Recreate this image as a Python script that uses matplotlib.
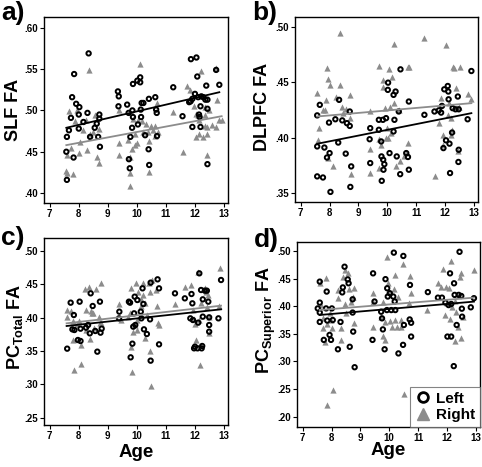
import numpy as np
import matplotlib
matplotlib.use("Agg")
import matplotlib.pyplot as plt
from matplotlib.ticker import FuncFormatter
from matplotlib.lines import Line2D

plt.rcParams['font.family'] = ['Liberation Sans', 'DejaVu Sans']
plt.rcParams['mathtext.fontset'] = 'custom'
plt.rcParams['mathtext.rm'] = 'Liberation Sans'
plt.rcParams['mathtext.bf'] = 'Liberation Sans:bold'

# ---------------- Panel a: SLF FA ----------------
a_left_age = [8.34, 7.84, 7.77, 7.91, 8.02, 8.00, 8.30, 7.73, 8.16, 8.00, 7.66, 7.59, 7.57, 7.82, 7.59,
              8.39, 8.55, 8.62, 8.71, 8.71, 8.67, 8.73, 9.35, 9.38, 9.37, 9.67, 9.72, 9.85, 9.87, 9.84,
              9.78, 9.73, 9.76, 9.87, 10.02, 10.12, 10.12, 10.14, 10.17, 10.23, 10.15, 10.04, 10.29,
              10.41, 10.42, 10.43, 10.64, 10.67, 10.69, 10.70, 11.26, 11.58, 11.87, 12.06, 11.92, 12.01,
              11.81, 12.09, 11.92, 11.86, 12.12, 12.20, 12.23, 12.30, 12.37, 12.44, 12.17, 12.20, 12.40,
              12.44, 12.44, 12.74, 12.85, 12.15]
a_left_fa = [.569, .544, .516, .508, .504, .495, .497, .491, .486, .478, .476, .468, .450, .443, .416,
             .468, .479, .484, .495, .490, .468, .456, .523, .517, .505, .507, .497, .500, .492, .479,
             .468, .441, .430, .532, .536, .540, .534, .501, .509, .509, .492, .483, .470,
             .453, .514, .434, .516, .501, .497, .469, .528, .493, .562, .564, .514, .520,
             .510, .541, .480, .511, .516, .505, .517, .516, .513, .502, .492, .480, .530,
             .513, .435, .549, .531, .495]
a_right_age = [8.34, 7.57, 7.59, 7.80, 8.05, 8.00, 8.30, 8.39, 8.48, 8.62, 8.71, 8.55, 8.69, 7.93, 8.25,
               8.16, 7.88, 7.59, 7.73, 7.65, 9.39, 9.38, 9.39, 9.70, 9.76, 9.76, 9.76, 9.85, 9.93, 9.95,
               10.01, 10.10, 10.05, 10.17, 10.21, 10.33, 10.38, 10.42, 10.50, 10.55, 10.41, 10.64, 10.69,
               10.72, 10.64, 9.87, 11.26, 11.58, 11.75, 11.85, 11.97, 12.03, 12.15, 12.21, 12.12, 12.28,
               12.35, 12.35, 12.43, 12.43, 12.35, 12.51, 12.60, 12.72, 12.77, 12.83, 12.44, 12.72, 12.06,
               12.15, 12.93]
a_right_fa = [.549, .427, .424, .423, .462, .449, .452, .472, .474, .444, .436, .495, .478, .501, .489,
              .476, .487, .446, .454, .499, .501, .446, .461, .464, .444, .424, .409, .453, .472, .458,
              .460, .556, .489, .487, .474, .483, .474, .463, .481, .476, .426, .481, .509,
              .474, .469, .490, .498, .450, .530, .525, .505, .496, .472, .548, .495, .468,
              .481, .495, .472, .480, .504, .501, .482, .551, .512, .489, .446, .480, .468,
              .489, .489]
a_fit_left = [7.57, 12.85, .479, .522]     # age0, age1, fa0, fa1
a_fit_right = [7.57, 12.93, .458, .493]

# ---------------- Panel b: DLPFC FA ----------------
b_left_age = [7.57, 7.66, 7.57, 7.82, 7.57, 7.77, 7.98, 8.00, 7.91, 8.03, 8.33, 8.30, 8.20, 8.44, 8.56,
              8.60, 8.70, 8.70, 8.75, 8.72, 9.41, 9.39, 9.41, 9.71, 9.71, 9.79, 9.80, 9.81, 9.86, 9.90,
              9.87, 9.85, 9.96, 10.02, 10.03, 10.08, 10.22, 10.29, 10.22, 10.25, 10.33, 10.45, 10.46,
              10.40, 10.66, 10.72, 10.75, 10.75, 11.29, 11.64, 11.79, 11.87, 11.90, 11.95, 11.98, 12.04,
              12.10, 12.12, 12.13, 12.16, 12.18, 12.25, 12.27, 12.37, 12.45, 12.48, 12.48, 12.47, 12.79,
              12.92]
b_left_fa = [.420, .4295, .392, .391, .365, .364, .4135, .386, .382, .351, .434, .3955, .4165, .4155, .3855,
             .413, .4105, .4235, .374, .3555, .4085, .3985, .377, .416, .407, .3965, .383, .361, .380, .376,
             .371, .416, .4175, .443, .4495, .386, .4385, .4415, .4055, .416, .383, .367, .4615,
             .4235, .386, .3825, .371, .4325, .4205, .4235, .4245, .4225, .4285, .3905, .4435, .3975,
             .4465, .4415, .4345, .3945, .368, .4045, .4265, .4255, .437, .4255, .389, .378, .4165,
             .460]
b_right_age = [7.57, 7.60, 7.64, 7.91, 7.96, 8.03, 7.89, 7.84, 7.93, 8.12, 8.35, 8.35, 8.21, 8.42, 8.58,
               8.72, 8.74, 8.72, 8.47, 7.77, 9.39, 9.41, 9.41, 9.70, 9.73, 9.78, 9.85, 9.87, 9.94, 9.99,
               10.06, 10.11, 10.18, 10.22, 10.25, 10.31, 10.40, 10.43, 10.57, 10.72, 10.77, 10.72, 10.66,
               9.96, 10.14, 9.71, 10.02, 11.29, 11.65, 11.81, 11.87, 11.95, 11.95, 12.04, 12.10, 12.13,
               12.22, 12.25, 12.28, 12.33, 12.40, 12.49, 12.54, 12.46, 12.79, 12.91, 12.23]
b_right_fa = [.440, .398, .409, .4625, .453, .4475, .434, .425, .3815, .374, .494, .4475, .437, .4275, .4255,
              .4385, .367, .418, .422, .425, .4235, .3895, .368, .4645, .3985, .3935, .446, .452, .4265, .4085,
              .4615, .428, .4545, .431, .4845, .3745, .425, .3785, .383, .464, .464, .395, .3865,
              .3995, .404, .3725, .3995, .4895, .3655, .413, .4355, .4025, .3935, .4835, .4205, .431,
              .4175, .407, .464, .4625, .4445, .4275, .464, .3875, .4395, .4345, .4025]
b_fit_left = [7.57, 12.92, .3944, .422]
b_fit_right = [7.57, 12.92, .419, .431]

# ---------------- Panel c: PC Total FA ----------------
c_left_age = [7.60, 7.72, 7.83, 7.78, 7.85, 7.97, 8.03, 8.06, 8.06, 8.25, 8.32, 8.38, 8.41, 8.48, 8.57,
              8.64, 8.73, 8.75, 8.79, 9.40, 9.39, 9.73, 9.77, 9.79, 9.85, 9.88, 9.91, 9.95, 9.93, 10.02,
              10.14, 10.16, 10.20, 10.23, 10.25, 10.35, 10.46, 10.48, 10.48, 10.72, 10.77, 10.77, 11.32,
              11.66, 11.85, 11.89, 11.94, 11.92, 11.98, 12.01, 12.10, 12.12, 12.16, 12.22, 12.24, 12.26,
              12.28, 12.28, 12.35, 12.42, 12.47, 12.50, 12.50, 12.50, 12.82, 12.91]
c_left_fa = [.3535, .4225, .404, .3825, .3815, .3665, .424, .365, .3835, .385, .389, .3765, .4365, .4175, .380,
             .349, .424, .3775, .3835, .409, .399, .424, .4225, .3405, .361, .3865, .4065, .389, .4315, .4265,
             .409, .399, .444, .4205, .3825, .3755, .3975, .3355, .4525, .4575, .444, .360, .4365,
             .429, .399, .4355, .3965, .4215, .354, .3565, .354, .3925, .4665, .4415, .354, .3575,
             .4015, .4275, .4405, .4405, .424, .4005, .389, .379, .399, .4565]
c_right_age = [7.58, 7.60, 7.72, 7.81, 7.81, 7.85, 8.00, 8.06, 8.06, 8.24, 8.21, 8.41, 8.44, 8.35, 8.49,
               8.54, 8.59, 8.71, 8.75, 8.77, 8.73, 8.24, 8.38, 7.95, 9.40, 9.45, 9.70, 9.77, 9.79, 9.81,
               9.85, 9.88, 9.93, 9.96, 10.02, 10.05, 10.14, 10.16, 10.20, 10.23, 10.28, 10.28, 10.37, 10.43,
               10.46, 10.46, 10.48, 10.54, 10.66, 10.72, 10.77, 10.69, 10.02, 11.32, 11.66, 11.87, 11.93,
               11.96, 12.01, 12.04, 12.10, 12.16, 12.19, 12.21, 12.35, 12.39, 12.42, 12.50, 12.50,
               12.88, 12.85, 12.45]
c_right_fa = [.4115, .4005, .4095, .3955, .3665, .3215, .3955, .359, .3305, .4115, .4425, .4095, .4075, .4465, .4065,
              .384, .4425, .4005, .4525, .3915, .3915, .3815, .3675, .3905, .4205, .3965, .4015, .4065, .444, .3555,
              .319, .379, .389, .4515, .3815, .439, .4275, .4175, .4515, .434, .4215, .369, .404, .4515,
              .439, .3505, .2975, .4565, .4415, .3915, .389, .4175, .3965, .4205, .4465, .449, .4115,
              .3975, .3905, .3665, .469, .3965, .329, .4225, .444, .439, .4155, .4015, .3765,
              .474, .4175, .434]
c_fit_left = [7.58, 12.91, .3875, .4125]
c_fit_right = [7.58, 12.91, .3915, .418]

# ---------------- Panel d: PC Superior FA ----------------
d_left_age = [7.59, 7.59, 7.59, 7.59, 7.52, 7.83, 7.81, 7.73, 7.93, 7.98, 8.01, 8.04, 7.85, 8.22, 8.31,
              8.37, 8.39, 8.45, 8.56, 8.59, 8.63, 8.73, 8.73, 8.75, 8.80, 9.44, 9.42, 9.49, 9.72, 9.75,
              9.84, 9.78, 9.87, 9.93, 9.92, 9.95, 10.02, 10.07, 10.14, 10.16, 10.19, 10.21, 10.32,
              10.48, 10.49, 10.51, 10.72, 10.71, 10.76, 10.76, 11.34, 11.69, 11.83, 11.95, 12.02, 12.06,
              12.11, 12.15, 12.15, 12.24, 12.25, 12.27, 12.34, 12.41, 12.44, 12.50, 12.52, 12.53,
              12.83, 12.94]
d_left_fa = [.4445, .4065, .3885, .3715, .396, .4265, .396, .339, .348, .339, .396, .375, .374, .322, .3715,
             .425, .434, .4715, .4485, .4415, .3265, .4125, .3885, .354, .2895, .4595, .339, .4085, .390, .378,
             .322, .358, .449, .4325, .393, .4175, .4235, .393, .4175, .497, .4085, .393, .3145,
             .330, .491, .366, .4385, .376, .370, .345, .4255, .4155, .4155, .4065, .345, .402,
             .4595, .345, .404, .2915, .4415, .4205, .366, .4205, .4985, .4185, .3955, .381,
             .398, .4145]
d_right_age = [7.59, 7.64, 7.70, 7.81, 7.70, 7.76, 7.85, 7.93, 7.98, 7.85, 8.04, 8.01, 8.22, 8.24, 8.33,
               8.33, 8.41, 8.45, 8.51, 8.56, 8.62, 8.73, 8.68, 8.77, 8.77, 8.45, 9.43, 9.43, 9.43, 9.72,
               9.78, 9.80, 9.84, 9.84, 9.93, 9.95, 10.00, 10.03, 10.10, 10.16, 10.19, 10.21, 10.26, 10.30,
               10.42, 10.48, 10.51, 10.42, 10.71, 10.74, 10.67, 11.32, 11.69, 11.81, 11.87, 11.95, 11.98,
               12.02, 12.06, 12.10, 12.13, 12.18, 12.27, 12.33, 12.39, 12.45, 12.50, 12.50, 12.56, 12.94,
               12.27]
d_right_fa = [.4415, .402, .378, .4505, .360, .3355, .3675, .387, .3755, .221, .2485, .360, .4295, .4145, .360,
              .339, .4535, .404, .3885, .4595, .4305, .4175, .4085, .4325, .370, .4655, .4245, .4085, .363, .381,
              .4085, .346, .339, .372, .490, .4415, .4265, .3735, .3615, .4305, .375, .4565, .3615, .4175,
              .363, .476, .241, .375, .4545, .4235, .405, .393, .4415, .4355, .4675, .384, .4355,
              .405, .4325, .376, .481, .399, .3375, .390, .363, .4535, .4595, .342, .380, .4655,
              .409]
d_fit_left = [7.59, 12.94, .3841, .4083]
d_fit_right = [7.59, 12.94, .3932, .4155]

# ---------------- Axis setup ----------------
x_ticks = [7, 8, 9, 10, 11, 12, 13]
a_yticks = [.40, .45, .50, .55, .60]
b_yticks = [.35, .40, .45, .50]
c_yticks = [.25, .30, .35, .40, .45, .50]
d_yticks = [.20, .25, .30, .35, .40, .45, .50]

GRAY = '#8c8c8c'
W, H = 482, 467
fig = plt.figure(figsize=(W / 100, H / 100), dpi=100)
fig.patch.set_facecolor('white')


def px_axes(l, r, t, b):
    return fig.add_axes([l / W, 1 - b / H, (r - l) / W, (b - t) / H])


panels = [
    dict(box=(44, 228, 17, 203), ylim=(.388, .613), yt=a_yticks,
         L=(a_left_age, a_left_fa), R=(a_right_age, a_right_fa), fl=a_fit_left, fr=a_fit_right,
         ylabel='SLF FA', ylx=-0.165, yly=0.50, tag='a)', tagpos=(13, 13), xlabel=None),
    dict(box=(295, 478, 17, 202), ylim=(.3419, .5087), yt=b_yticks,
         L=(b_left_age, b_left_fa), R=(b_right_age, b_right_fa), fl=b_fit_left, fr=b_fit_right,
         ylabel='DLPFC FA', ylx=-0.18, yly=0.515, tag='b)', tagpos=(265, 13), xlabel=None),
    dict(box=(44, 228, 238, 425), ylim=(.239, .5195), yt=c_yticks,
         L=(c_left_age, c_left_fa), R=(c_right_age, c_right_fa), fl=c_fit_left, fr=c_fit_right,
         ylabel=r'PC$_{\mathbf{Total}}$ FA', ylx=-0.155, yly=0.526, tag='c)', tagpos=(13, 238),
         xlabel=-0.145),
    dict(box=(297, 480, 241.7, 426.7), ylim=(.1818, .5168), yt=d_yticks,
         L=(d_left_age, d_left_fa), R=(d_right_age, d_right_fa), fl=d_fit_left, fr=d_fit_right,
         ylabel=r'PC$_{\mathbf{Superior}}$ FA', ylx=-0.166, yly=0.577, tag='d)', tagpos=(266, 240),
         xlabel=-0.13),
]

for i, p in enumerate(panels):
    ax = px_axes(*p['box'])
    ax.set_xlim(6.8, 13.15)
    ax.set_ylim(*p['ylim'])
    ax.scatter(p['R'][0], p['R'][1], marker='^', s=20, c=GRAY, linewidths=0, zorder=2)
    ax.scatter(p['L'][0], p['L'][1], marker='o', s=10, facecolors='none', edgecolors='black',
               linewidths=1.4, zorder=3)
    fr, fl = p['fr'], p['fl']
    ax.plot(fr[:2], fr[2:], color=GRAY, lw=1.3, zorder=4)
    ax.plot(fl[:2], fl[2:], color='black', lw=1.3, zorder=4)
    ax.set_xticks(x_ticks)
    ax.set_yticks(p['yt'])
    ax.yaxis.set_major_formatter(FuncFormatter(lambda v, pos: f"{v:.2f}"[1:]))
    ax.tick_params(direction='out', length=3, width=0.8, labelsize=7, pad=1.5)
    for lab in ax.get_xticklabels() + ax.get_yticklabels():
        lab.set_fontweight('bold')
    for sp in ax.spines.values():
        sp.set_linewidth(1.0)
    ax.text(p['ylx'], p['yly'], p['ylabel'], rotation=90, ha='center', va='center',
            fontsize=13, fontweight='bold', transform=ax.transAxes)
    if p['xlabel'] is not None:
        ax.text(0.5, p['xlabel'], 'Age', ha='center', va='center', fontsize=13.5,
                fontweight='bold', transform=ax.transAxes)
    fig.text(p['tagpos'][0] / W, 1 - p['tagpos'][1] / H, p['tag'], ha='center', va='center',
             fontsize=19, fontweight='bold')
    if i == 3:
        handles = [Line2D([], [], marker='o', ls='none', mfc='none', mec='black', mew=2.0, ms=7),
                   Line2D([], [], marker='^', ls='none', mfc=GRAY, mec=GRAY, ms=9)]
        leg = ax.legend(handles, ['Left', 'Right'], loc='lower right', frameon=True, fancybox=False,
                        borderaxespad=0, handlelength=1.0, handletextpad=0.4, borderpad=0.3,
                        labelspacing=0.15, prop={'weight': 'bold', 'size': 11})
        leg.get_frame().set_edgecolor('#666666')
        leg.get_frame().set_linewidth(0.8)

fig.savefig('out.png', dpi=100, facecolor='white')
